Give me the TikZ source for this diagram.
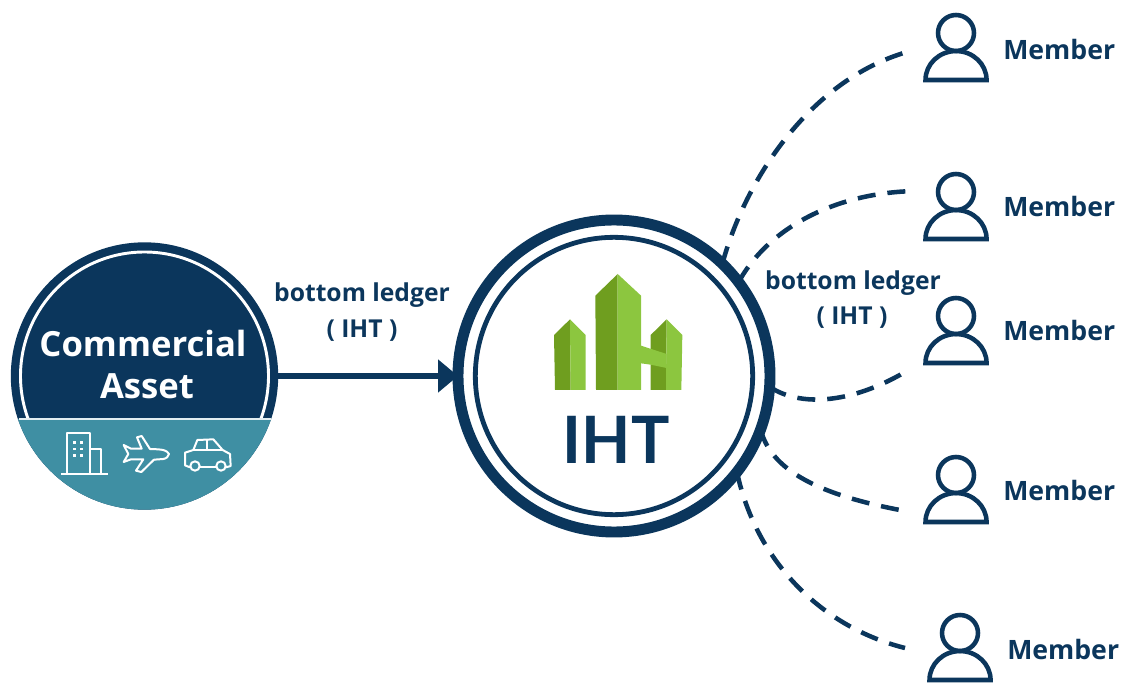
\documentclass[tikz,border=0pt]{standalone}
\usepackage{graphicx}
\usepackage{fontspec}
\setmainfont{Open Sans}
\newfontfamily\ihtfont{Lato}
\usetikzlibrary{arrows.meta}
\definecolor{navy}{HTML}{0B365C}
\definecolor{teal2}{HTML}{3F8FA3}
\definecolor{gdark}{HTML}{6F9E1F}
\definecolor{glight}{HTML}{8CC63F}
\tikzset{
  lbl/.style={font=\fontsize{18.5}{22}\selectfont\bfseries, text=navy, inner sep=0pt},
  memb/.style={font=\fontsize{20}{22}\selectfont\bfseries, text=navy, inner sep=0pt, anchor=west},
  link/.style={draw=navy, line width=3.4pt, dash pattern=on 13.5pt off 9pt},
  icon/.style={draw=white, line width=1.5pt, line join=round},
  personline/.style={draw=navy, line width=3.4pt, line join=miter},
  ring/.style={circle, draw=navy, inner sep=0pt, outer sep=0pt}
}
\newcommand{\personicon}[2]{%
  \draw[personline] (#1,#2-49) circle[radius=13.5pt];
  \draw[personline] (#1-30.5,#2-2) arc[start angle=180, end angle=0, x radius=22.9pt, y radius=21.7pt] -- cycle;
}
\begin{document}
\begin{tikzpicture}[x=0.75pt,y=-0.75pt]
\useasboundingbox (0,0) rectangle (1125,684);
% Commercial asset
\node[circle, fill=navy, minimum size=200.5pt, inner sep=0pt, outer sep=0pt] (asset) at (144.5,376) {};
\begin{scope}
  \clip (0,0) rectangle (300,418);
  \draw[white, line width=2.2pt] (asset.center) circle[radius=93pt];
\end{scope}
\begin{scope}
  \clip (0,419) rectangle (300,520);
  \fill[teal2] (asset.center) circle[radius=100.25pt];
\end{scope}
\draw[white!85!teal2, line width=1pt] (18.5,419) -- (270.5,419);
\node[font=\fontsize{26}{30}\selectfont\bfseries, text=white, inner sep=0pt] (t1) at (143,344) {Commercial};
\node[font=\fontsize{26}{30}\selectfont\bfseries, text=white, inner sep=0pt] (t2) at (147,386) {Asset};
% icons
\begin{scope}[shift={(0,230)},x=0.25pt,y=-0.25pt]
  \draw[icon] (183,733) -- (323,733);
  \draw[icon] (200,733) -- (200,610) -- (270,610) -- (270,733);
  \draw[icon] (270,658) -- (302,658) -- (302,733);
  \foreach \a in {224,244} \foreach \b in {637,657,677}
    \fill[white] (\a-4,\b-4) rectangle (\a+4,\b+4);
  \draw[icon] (507,672) .. controls (500,660) and (490,658) .. (450,657) -- (425,618) -- (411,622) -- (425,656) -- (393,656) -- (371,645) -- (385,672) -- (371,696) -- (393,688) -- (430,688) -- (408,722) -- (424,726) -- (462,689) -- (490,687) .. controls (500,685) and (505,680) .. (507,672) -- cycle;
  \draw[icon] (570,712) -- (555,706) -- (555,668) -- (580,660) -- (592,630) -- (640,628) -- (668,660) -- (690,672) -- (692,708) -- (678,712);
  \draw[icon] (600,712) -- (648,712);
  \draw[icon] (580,660) -- (668,660);
  \draw[icon] (620,628) -- (620,660);
  \draw[icon] (585,708) circle[radius=14];
  \draw[icon] (663,708) circle[radius=14];
\end{scope}
% IHT
\node[ring, line width=8.2pt, minimum size=234pt] (iht) at (614,376) {};
\node[ring, line width=3.6pt, minimum size=208pt] (ihtin) at (614,376) {};
\begin{scope}[shift={(440,200)},x=0.25pt,y=-0.25pt]
  \fill[gdark] (342,405) -- (390,358) -- (392,570) -- (345,570) -- cycle;
  \fill[glight] (390,358) -- (437,405) -- (437,570) -- (392,570) -- cycle;
  \fill[gdark] (466,287) -- (533,222) -- (533,570) -- (468,570) -- cycle;
  \fill[glight] (533,222) -- (603,287) -- (603,570) -- (533,570) -- cycle;
  \fill[gdark] (632,405) -- (680,358) -- (678,570) -- (632,570) -- cycle;
  \fill[glight] (680,358) -- (727,405) -- (724,570) -- (678,570) -- cycle;
  \fill[glight] (603,437) -- (680,462) -- (680,504) -- (632,494) -- (603,490) -- cycle;
\end{scope}
\node[font=\ihtfont\fontsize{49}{54}\selectfont\bfseries, text=navy, inner sep=0pt] (ihtlabel) at (616,440) {\scalebox{0.98}[1]{IHT}};
% arrow
\draw[navy, line width=5.2pt, -{Triangle[length=15pt,width=24pt]}] (asset.east) -- (iht.west);
% labels
\node[lbl] (la) at (362,295) {bottom ledger};
\node[lbl] (lb) at (362,331) {( IHT )};
\node[lbl] (lc) at (853,283) {bottom ledger};
\node[lbl] (ld) at (852,318) {( IHT )};
% members
\personicon{956}{82}
\personicon{956}{241}
\personicon{956}{365}
\personicon{956}{524}
\personicon{960}{682}
\node[memb] (m1) at (1003,50) {Member};
\node[memb] (m2) at (1003,207) {Member};
\node[memb] (m3) at (1003,331) {Member};
\node[memb] (m4) at (1003,490) {Member};
\node[memb] (m5) at (1007,649) {Member};
\coordinate (e1) at (907,52);
\coordinate (e2) at (917,191);
\coordinate (e3) at (910,369);
\coordinate (e4) at (905,511);
\coordinate (e5) at (905,648);
% connectors
\draw[link] (iht.46) .. controls (745,180) and (810,80) .. (e1);
\draw[link] (iht.37) .. controls (770,225) and (840,192) .. (e2);
\draw[link] (iht.-4) .. controls (805,410) and (860,400) .. (e3);
\draw[link] (iht.-20) .. controls (772,475) and (830,497) .. (e4);
\draw[link] (iht.-38) .. controls (757,565) and (825,628) .. (e5);
\end{tikzpicture}
\end{document}
